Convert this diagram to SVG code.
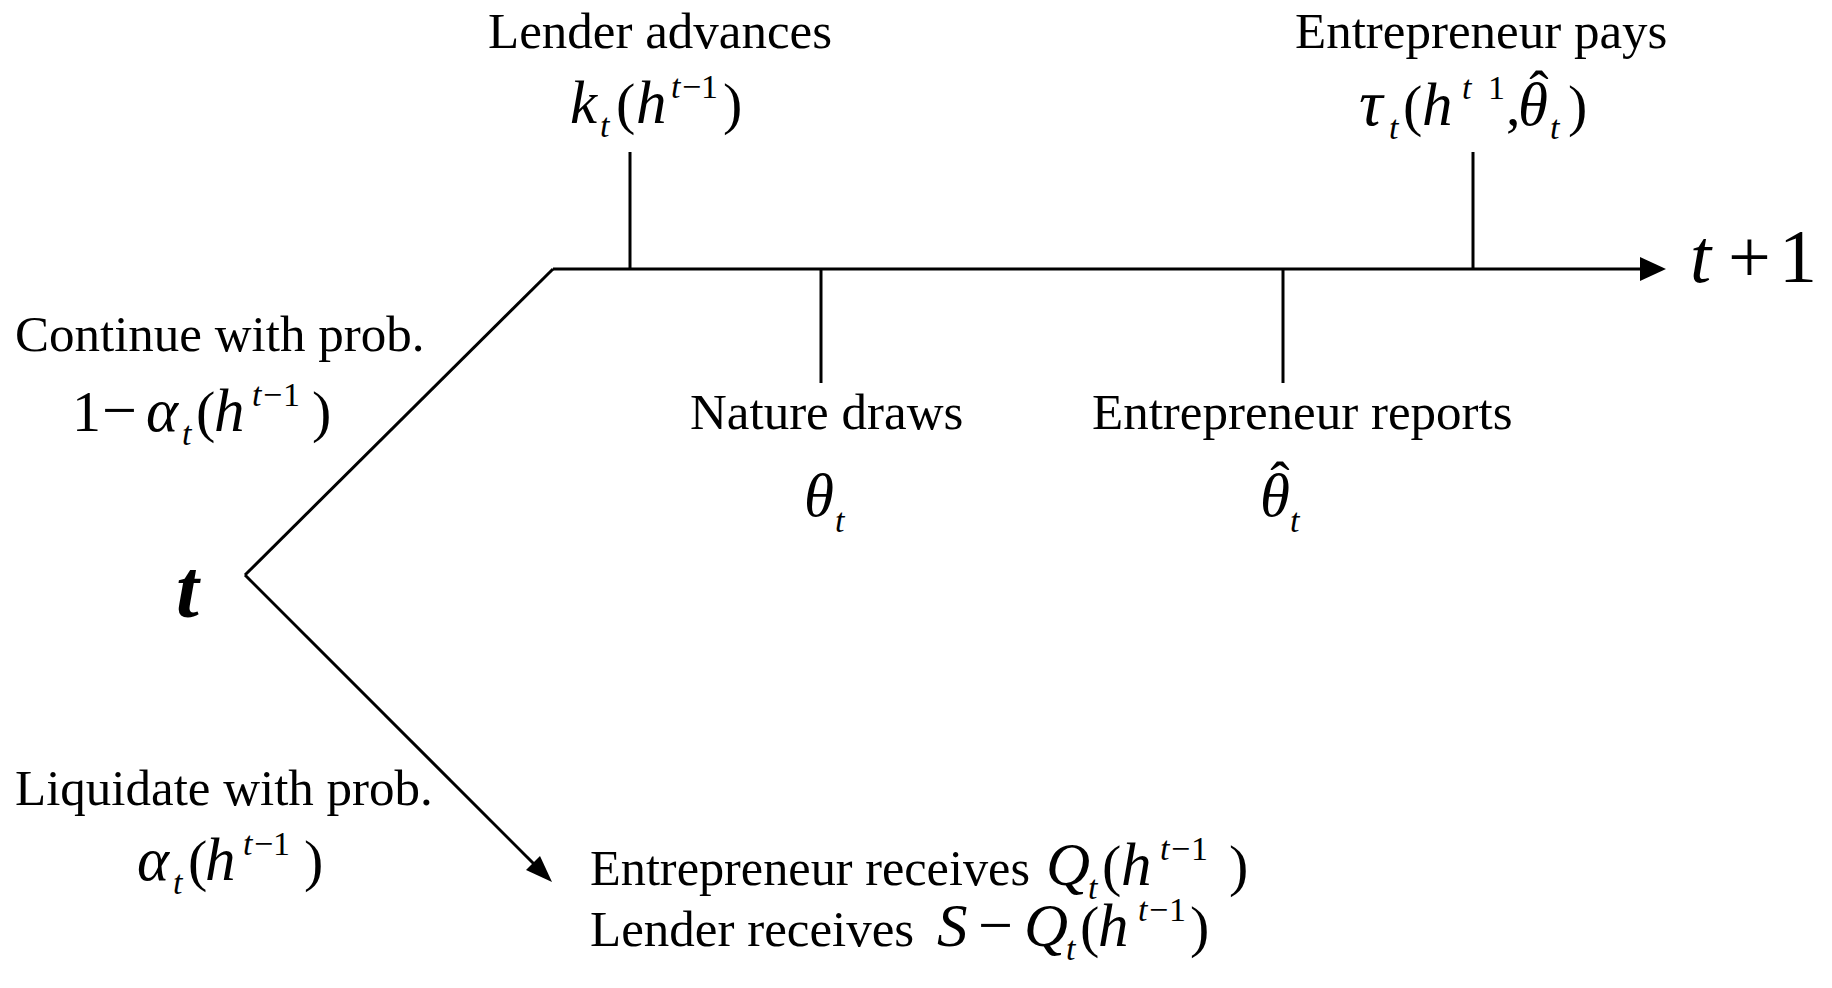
<svg xmlns="http://www.w3.org/2000/svg" width="1832" height="988" viewBox="0 0 1832 988">
<defs>
<style>
.t{font-family:"Liberation Serif","Times New Roman",serif;font-size:51px;fill:#000}
.mi{font-family:"Liberation Serif","Times New Roman",serif;font-style:italic;font-size:61px;fill:#000}
.mn{font-family:"Liberation Serif","Times New Roman",serif;font-size:58px;fill:#000}
.si{font-family:"Liberation Serif","Times New Roman",serif;font-style:italic;font-size:34px;fill:#000}
.sn{font-family:"Liberation Serif","Times New Roman",serif;font-size:34px;fill:#000}
.ln{stroke:#000;stroke-width:3;fill:none}
</style>
</defs>
<rect width="1832" height="988" fill="#fff"/>

<g id="connectors">
<line class="ln" x1="245" y1="575" x2="553" y2="269"/>
<line class="ln" x1="553" y1="269" x2="1642" y2="269"/>
<path d="M1640,257 L1666,269 L1640,281 Z" fill="#000"/>
<line class="ln" x1="245" y1="575" x2="536" y2="866"/>
<path d="M552,882 L526,870 L540,856 Z" fill="#000"/>
<line class="ln" x1="630" y1="152" x2="630" y2="269"/>
<line class="ln" x1="821" y1="269" x2="821" y2="383"/>
<line class="ln" x1="1283" y1="269" x2="1283" y2="383"/>
<line class="ln" x1="1473" y1="152" x2="1473" y2="269"/>
</g>

<g id="node-t">
<text x="176" y="617" font-family="Liberation Serif, Times New Roman, serif" font-style="italic" font-weight="bold" font-size="82">t</text>
</g>

<g id="node-t1">
<text x="1690" y="282" font-family="Liberation Serif, Times New Roman, serif" font-style="italic" font-size="76">t</text>
<text x="1728" y="282" font-family="Liberation Serif, Times New Roman, serif" font-size="76">+</text>
<text x="1779" y="282" font-family="Liberation Serif, Times New Roman, serif" font-size="76">1</text>
</g>

<g id="event-lender">
<text class="t" x="488" y="48">Lender advances</text>
<text class="mi" x="570" y="123">k</text>
<text class="si" x="600" y="137">t</text>
<text class="mn" x="616" y="123">(</text>
<text class="mi" x="636" y="123">h</text>
<text class="si" x="671" y="98">t</text>
<text class="sn" x="682" y="98">−</text>
<text class="sn" x="701" y="98">1</text>
<text class="mn" x="723" y="123">)</text>
</g>

<g id="event-nature">
<text class="t" x="690" y="429">Nature draws</text>
<text class="mi" x="804" y="516">θ</text>
<text class="si" x="835" y="532">t</text>
</g>

<g id="event-report">
<text class="t" x="1092" y="429">Entrepreneur reports</text>
<text class="mi" x="1260" y="516">θ</text>
<text class="mn" x="1280" y="501" text-anchor="middle">ˆ</text>
<text class="si" x="1290" y="532">t</text>
</g>

<g id="event-pays">
<text class="t" x="1295" y="48">Entrepreneur pays</text>
<text x="1359" y="125" font-family="Liberation Serif, Times New Roman, serif" font-style="italic" font-size="66">τ</text>
<text class="si" x="1389" y="139">t</text>
<text class="mn" x="1403" y="125">(</text>
<text class="mi" x="1422" y="125">h</text>
<text class="si" x="1462" y="99">t</text>
<text class="sn" x="1488" y="99">1</text>
<text class="mn" x="1506" y="125">,</text>
<text class="mi" x="1518" y="125">θ</text>
<text class="mn" x="1539" y="110" text-anchor="middle">ˆ</text>
<text class="si" x="1550" y="139">t</text>
<text class="mn" x="1568" y="125">)</text>
</g>

<g id="branch-continue">
<text class="t" x="15" y="351">Continue with prob.</text>
<text class="mn" x="72" y="431">1</text>
<text x="102" y="431" font-family="Liberation Serif, Times New Roman, serif" font-size="62">−</text>
<text class="mi" x="146" y="431">α</text>
<text class="si" x="182" y="445">t</text>
<text class="mn" x="196" y="431">(</text>
<text class="mi" x="214" y="431">h</text>
<text class="si" x="252" y="406">t</text>
<text class="sn" x="263" y="406">−</text>
<text class="sn" x="283" y="406">1</text>
<text class="mn" x="312" y="431">)</text>
</g>

<g id="branch-liquidate">
<text class="t" x="15" y="805">Liquidate with prob.</text>
<text class="mi" x="137" y="880">α</text>
<text class="si" x="173" y="894">t</text>
<text class="mn" x="188" y="880">(</text>
<text class="mi" x="205" y="880">h</text>
<text class="si" x="243" y="855">t</text>
<text class="sn" x="254" y="855">−</text>
<text class="sn" x="273" y="855">1</text>
<text class="mn" x="304" y="880">)</text>
</g>

<g id="liquidation-outcome">
<text class="t" x="590" y="885" textLength="440" lengthAdjust="spacingAndGlyphs">Entrepreneur receives</text>
<text class="mi" x="1046" y="885">Q</text>
<text class="si" x="1088" y="899">t</text>
<text class="mn" x="1102" y="885">(</text>
<text class="mi" x="1121" y="885">h</text>
<text class="si" x="1160" y="860">t</text>
<text class="sn" x="1171" y="860">−</text>
<text class="sn" x="1191" y="860">1</text>
<text class="mn" x="1229" y="885">)</text>
<text class="t" x="590" y="946">Lender receives</text>
<text class="mi" x="937" y="946">S</text>
<text x="978" y="946" font-family="Liberation Serif, Times New Roman, serif" font-size="62">−</text>
<text class="mi" x="1024" y="946">Q</text>
<text class="si" x="1066" y="960">t</text>
<text class="mn" x="1080" y="946">(</text>
<text class="mi" x="1098" y="946">h</text>
<text class="si" x="1138" y="921">t</text>
<text class="sn" x="1149" y="921">−</text>
<text class="sn" x="1169" y="921">1</text>
<text class="mn" x="1190" y="946">)</text>
</g>
</svg>
